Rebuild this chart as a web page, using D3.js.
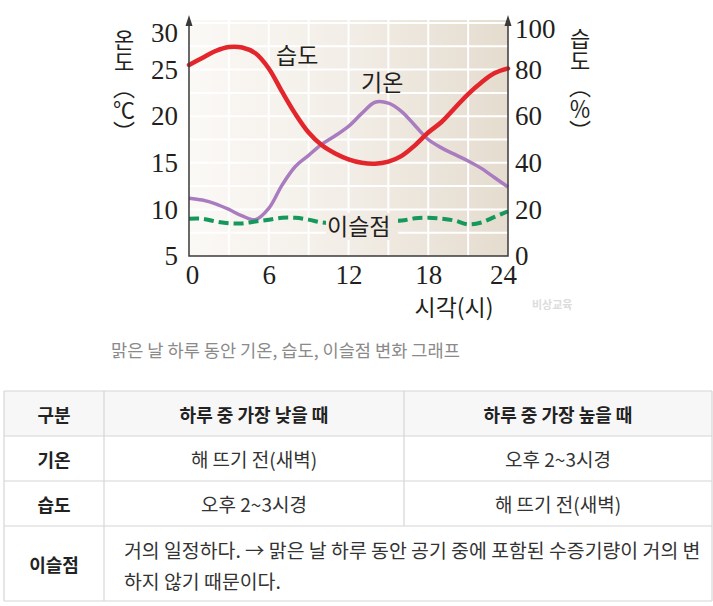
<!DOCTYPE html>
<html>
<head>
<meta charset="utf-8">
<script src="https://cdn.jsdelivr.net/npm/d3@7"></script>
<style>
  body { margin: 0; background: #fff; }
  svg { display: block; }
</style>
</head>
<body>
<svg id="chart" width="713" height="606"></svg>
<script>
// values, one per hour
const hours = [0, 1, 2, 3, 4, 5, 6, 7, 8, 9, 10, 11, 12, 13, 14, 15, 16, 17, 18, 19, 20, 21, 22, 23, 24]
const humidity = [82, 85, 88, 89.7, 89.5, 87, 80.5, 70.5, 61, 53, 47.5, 44, 41.5, 40, 39.6, 40.5, 43, 47.5, 53, 57.5, 63.5, 69.5, 74.5, 78.5, 80.5]
const temperature = [11.2, 11.0, 10.6, 10.0, 9.3, 8.9, 10.1, 12.6, 14.6, 15.8, 17.0, 17.9, 18.9, 20.3, 21.5, 21.4, 20.5, 19.0, 17.5, 16.6, 15.9, 15.2, 14.4, 13.4, 12.4]
const dewPoint = [9.0, 9.0, 8.7, 8.5, 8.5, 8.7, 8.9, 9.1, 9.1, 8.9, 8.6, 8.5, 8.6, 8.7, 8.8, 8.8, 8.8, 9.05, 9.1, 9.0, 8.8, 8.4, 8.6, 9.2, 9.8]

const tempTicks = [5, 10, 15, 20, 25, 30]
const humidityTicks = [0, 20, 40, 60, 80, 100]
const hourTicks = [0, 6, 12, 18, 24]
const gridHours = [3, 6, 9, 12, 15, 18, 21]
const gridHumidity = [10, 20, 30, 40, 50, 60, 70, 80, 90, 100]

const caption = '맑은 날 하루 동안 기온, 습도, 이슬점 변화 그래프'
const tableHeader = ['구분', '하루 중 가장 낮을 때', '하루 중 가장 높을 때']
const tableRows = [
    ['기온', '해 뜨기 전(새벽)', '오후 2~3시경'],
    ['습도', '오후 2~3시경', '해 뜨기 전(새벽)']
]
const dewLabel = '이슬점'
const dewNote = [
    '거의 일정하다. → 맑은 날 하루 동안 공기 중에 포함된 수증기량이 거의 변',
    '하지 않기 때문이다.'
]

const SERIF = "'Liberation Serif', 'Times New Roman', serif"
const SANS = "'Noto Sans CJK KR', 'Noto Sans', sans-serif"

const svg = d3.select('#chart')

const x = d3.scaleLinear().domain([0, 24]).range([189, 508])
const yT = d3.scaleLinear().domain([5, 30]).range([256, 23])
const yH = d3.scaleLinear().domain([0, 100]).range([256, 23])

// background gradient (light on the left, beige to the right)
const grad = svg.append('defs').append('linearGradient')
    .attr('id', 'plot-bg')
    .attr('gradientUnits', 'userSpaceOnUse')
    .attr('x1', x(0)).attr('x2', x(24))
    .attr('y1', 0).attr('y2', 0)
grad.append('stop').attr('offset', 0).attr('stop-color', '#fbf9f6')
grad.append('stop').attr('offset', 0.5).attr('stop-color', '#f2ede6')
grad.append('stop').attr('offset', 1).attr('stop-color', '#e5dccf')

const plot = svg.append('g').attr('class', 'g-plot')

plot.append('rect')
    .attr('x', x(0))
    .attr('y', yH(100) - 3)
    .attr('width', x(24) - x(0))
    .attr('height', yH(0) - yH(100) + 3)
    .attr('fill', 'url(#plot-bg)')

// white grid
plot.append('g').selectAll('line')
    .data(gridHours)
    .join('line')
    .attr('x1', d => x(d)).attr('x2', d => x(d))
    .attr('y1', yH(100) - 3).attr('y2', yH(0))
    .attr('stroke', '#fff')
    .attr('stroke-width', 2)

plot.append('g').selectAll('line')
    .data(gridHumidity)
    .join('line')
    .attr('x1', x(0)).attr('x2', x(24))
    .attr('y1', d => yH(d)).attr('y2', d => yH(d))
    .attr('stroke', '#fff')
    .attr('stroke-width', 2)

// series
const curve = d3.curveCatmullRom.alpha(0.5)

const lineH = d3.line()
    .x((d, i) => x(hours[i]))
    .y(d => yH(d))
    .curve(curve)

const lineT = d3.line()
    .x((d, i) => x(hours[i]))
    .y(d => yT(d))
    .curve(curve)

plot.append('path')
    .datum(temperature)
    .attr('d', lineT)
    .attr('fill', 'none')
    .attr('stroke', '#a97cbf')
    .attr('stroke-width', 3.5)
    .attr('stroke-linejoin', 'round')

plot.append('path')
    .datum(dewPoint)
    .attr('d', lineT)
    .attr('fill', 'none')
    .attr('stroke', '#14985b')
    .attr('stroke-width', 4)
    .attr('stroke-dasharray', '10 5')

plot.append('path')
    .datum(humidity)
    .attr('d', lineH)
    .attr('fill', 'none')
    .attr('stroke', '#e3252c')
    .attr('stroke-width', 4.5)
    .attr('stroke-linecap', 'round')

// series labels
const labels = plot.append('g')
    .attr('font-family', SANS)
    .attr('font-size', 23)
    .attr('fill', '#231f20')
    .attr('dominant-baseline', 'central')

labels.append('rect')
    .attr('x', 326).attr('y', 213)
    .attr('width', 72).attr('height', 27)
    .attr('fill', 'url(#plot-bg)')

labels.append('text').attr('x', 276).attr('y', 54).text('습도')
labels.append('text').attr('x', 361).attr('y', 81).text('기온')
labels.append('text').attr('x', 327).attr('y', 225).text('이슬점')

// axes
function styleTicks (g) {
    g.select('.domain').remove()
    g.selectAll('text')
        .attr('font-family', SERIF)
        .attr('font-size', 27)
        .attr('fill', '#231f20')
}

svg.append('g')
    .attr('transform', `translate(${x(0)},0)`)
    .call(d3.axisLeft(yT).tickValues(tempTicks).tickSize(0).tickPadding(11))
    .call(styleTicks)
    .selectAll('.tick')
    .filter(d => d === 30)
    .select('text')
    .attr('y', 10)

svg.append('g')
    .attr('transform', `translate(${x(24)},0)`)
    .call(d3.axisRight(yH).tickValues(humidityTicks).tickSize(0).tickPadding(7))
    .call(styleTicks)
    .selectAll('.tick')
    .filter(d => d === 100)
    .select('text')
    .attr('y', 6)

const xAxis = svg.append('g')
    .attr('transform', `translate(0,${yH(0)})`)
    .call(d3.axisBottom(x).tickValues(hourTicks).tickSize(0).tickPadding(9))
    .call(styleTicks)
xAxis.selectAll('.tick').filter(d => d === 0).select('text').attr('x', 3)
xAxis.selectAll('.tick').filter(d => d === 24).select('text').attr('x', -5)

// axis lines with arrow heads
const axisLines = svg.append('g')
    .attr('stroke', '#3a3a3a')
    .attr('stroke-width', 1.5)
    .attr('fill', 'none')

axisLines.append('path')
    .attr('d', `M${x(0)},${yT(30) - 5}V${yT(5)}H${x(24)}V${yH(100) - 5}`)

axisLines.selectAll('path.arrow')
    .data([x(0), x(24)])
    .join('path')
    .attr('class', 'arrow')
    .attr('d', d => `M${d},${yH(100) - 8}L${d - 3.5},${yH(100) + 3}L${d + 3.5},${yH(100) + 3}Z`)
    .attr('fill', '#3a3a3a')
    .attr('stroke', 'none')

// vertical axis titles, written top to bottom
function verticalTitle (cx, top, word, unit) {
    const t = svg.append('text')
        .attr('x', cx)
        .attr('y', top)
        .style('writing-mode', 'vertical-rl')
        .attr('font-family', SANS)
        .attr('font-size', 22)
        .attr('fill', '#231f20')
    t.append('tspan').text(word)
    t.append('tspan').attr('dy', 4).text(unit)
}

verticalTitle(124, 29, '온도', '（℃）')
verticalTitle(580, 28, '습도', '（％）')

svg.append('text')
    .attr('x', 454).attr('y', 306)
    .attr('text-anchor', 'middle')
    .attr('dominant-baseline', 'central')
    .attr('font-family', SANS)
    .attr('font-size', 23)
    .attr('fill', '#231f20')
    .text('시각(시)')

svg.append('text')
    .attr('x', 532).attr('y', 304)
    .attr('dominant-baseline', 'central')
    .attr('font-family', SANS)
    .attr('font-size', 11)
    .attr('font-weight', 'bold')
    .attr('fill', '#dcdcdc')
    .text('비상교육')

// caption
svg.append('text')
    .attr('x', 111).attr('y', 349)
    .attr('dominant-baseline', 'central')
    .attr('font-family', SANS)
    .attr('font-size', 17.6)
    .attr('fill', '#8a8a8a')
    .text(caption)

// summary table
const colX = [4, 104, 404, 712]
const rowY = [391, 436, 481, 526, 601]
const table = svg.append('g')
    .attr('font-family', SANS)
    .attr('font-size', 19)
    .attr('fill', '#333')
    .attr('dominant-baseline', 'central')

table.append('rect')
    .attr('x', colX[0]).attr('y', rowY[0])
    .attr('width', colX[3] - colX[0]).attr('height', rowY[1] - rowY[0])
    .attr('fill', '#f7f7f7')

const borders = table.append('g')
    .attr('stroke', '#d6d6d6')
    .attr('stroke-width', 1.2)

borders.selectAll('line.row')
    .data(rowY)
    .join('line')
    .attr('class', 'row')
    .attr('x1', colX[0]).attr('x2', colX[3])
    .attr('y1', d => d).attr('y2', d => d)

borders.selectAll('line.col')
    .data(colX)
    .join('line')
    .attr('class', 'col')
    .attr('x1', d => d).attr('x2', d => d)
    .attr('y1', rowY[0])
    .attr('y2', (d, i) => (i === 2 ? rowY[3] : rowY[4]))

const colMid = i => (colX[i] + colX[i + 1]) / 2
const rowMid = i => (rowY[i] + rowY[i + 1]) / 2

table.selectAll('text.head')
    .data(tableHeader)
    .join('text')
    .attr('class', 'head')
    .attr('x', (d, i) => colMid(i))
    .attr('y', rowMid(0))
    .attr('text-anchor', 'middle')
    .attr('font-size', 18)
    .attr('font-weight', 'bold')
    .attr('fill', '#222')
    .text(d => d)

tableRows.forEach((row, r) => {
    table.selectAll(`text.row${r}`)
        .data(row)
        .join('text')
        .attr('class', `row${r}`)
        .attr('x', (d, i) => colMid(i))
        .attr('y', rowMid(r + 1))
        .attr('text-anchor', 'middle')
        .attr('font-size', (d, i) => (i === 0 ? 18 : 19))
        .attr('font-weight', (d, i) => (i === 0 ? 'bold' : 'normal'))
        .attr('fill', (d, i) => (i === 0 ? '#222' : '#333'))
        .text(d => d)
})

table.append('text')
    .attr('x', colMid(0))
    .attr('y', rowMid(3))
    .attr('text-anchor', 'middle')
    .attr('font-size', 18)
    .attr('font-weight', 'bold')
    .attr('fill', '#222')
    .text(dewLabel)

table.selectAll('text.note')
    .data(dewNote)
    .join('text')
    .attr('class', 'note')
    .attr('x', 124)
    .attr('y', (d, i) => 549 + i * 31)
    .attr('font-size', 19.4)
    .text(d => d)
</script>
</body>
</html>
